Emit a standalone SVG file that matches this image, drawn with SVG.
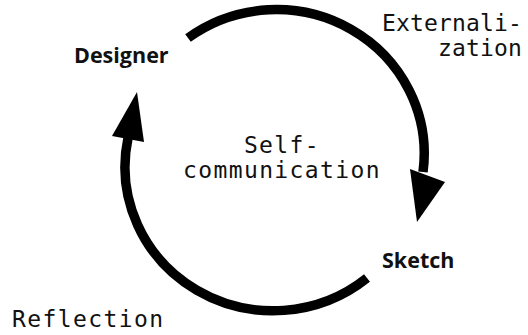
<svg xmlns="http://www.w3.org/2000/svg" width="528" height="335" viewBox="0 0 528 335">
  <style>
    .node { font-family: "Open Sans", "Noto Sans", "DejaVu Sans", sans-serif; font-weight: 700; font-size: 21.5px; fill: #111; }
    .mono { font-family: "DejaVu Sans Mono", "Liberation Mono", monospace; font-size: 23px; fill: #111; }
    .arc { fill: none; stroke: #000; stroke-width: 9.5; stroke-linecap: butt; }
    .head { fill: #000; }
  </style>
  <rect width="528" height="335" fill="#fff"/>

  <g id="connectors">
    <!-- Externalization: designer to sketch -->
    <path class="arc" d="M188,38 A148,144 0 0 1 423,172"/>
    <polygon class="head" points="410,169 445,182 417,222"/>
    <!-- Reflection: sketch back to designer -->
    <path class="arc" d="M367,278 A148,144 0 0 1 128,138"/>
    <polygon class="head" points="137,92 112,136 144,142"/>
  </g>

  <g id="designer">
    <text class="node" x="74" y="63">Designer</text>
  </g>
  <g id="sketch">
    <text class="node" x="382" y="268">Sketch</text>
  </g>

  <g id="labels">
    <text class="mono" x="522" y="31" text-anchor="end" letter-spacing="0.15">Externali-</text>
    <text class="mono" x="522" y="56" text-anchor="end" letter-spacing="0.15">zation</text>
    <text class="mono" x="282" y="153" text-anchor="middle" letter-spacing="1.4">Self-</text>
    <text class="mono" x="282" y="178" text-anchor="middle" letter-spacing="1.4">communication</text>
    <text class="mono" x="12" y="327" letter-spacing="1.4">Reflection</text>
  </g>
</svg>
